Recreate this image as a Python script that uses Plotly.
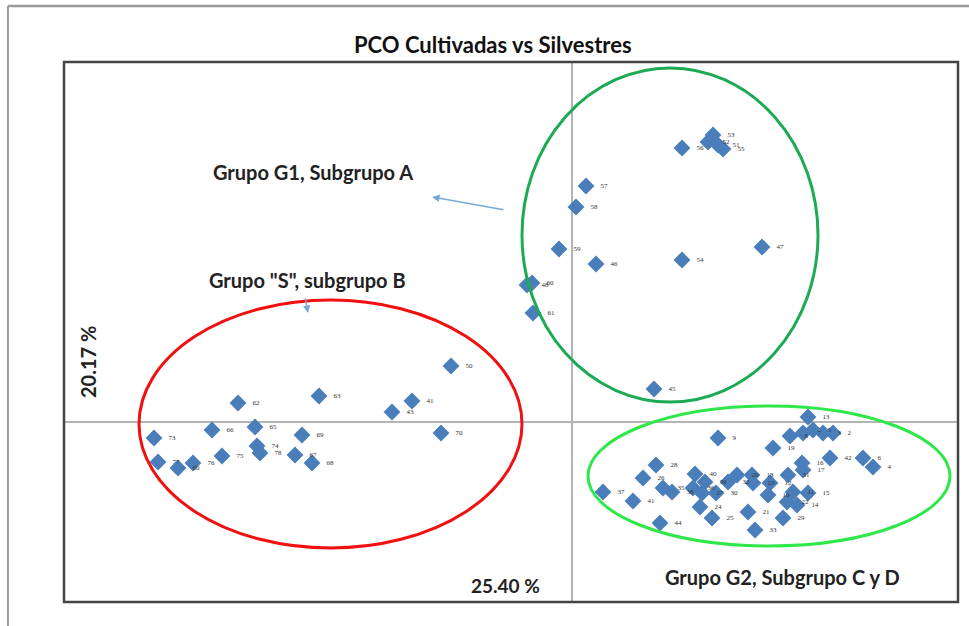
import plotly.graph_objects as go

# ---- data (PCO scores: PC1, PC2) ----
g1_x = [0.141, 0.136, 0.146, 0.151, 0.110, 0.014, 0.004, -0.013, 0.024, 0.110, 0.190, -0.045, -0.040, -0.039, 0.082]
g1_y = [0.287, 0.280, 0.277, 0.273, 0.274, 0.236, 0.215, 0.173, 0.158, 0.162, 0.175, 0.137, 0.139, 0.109, 0.033]
g1_lab = ["53", "52", "51", "55", "56", "57", "58", "59", "46", "54", "47", "48", "60", "61", "45"]

s_x = [-0.418, -0.414, -0.394, -0.379, -0.360, -0.350, -0.334, -0.317, -0.315, -0.312, -0.277, -0.270, -0.260, -0.253, -0.180, -0.160, -0.131, -0.121]
s_y = [-0.016, -0.040, -0.046, -0.041, -0.008, -0.034, 0.019, -0.005, -0.024, -0.031, -0.033, -0.013, -0.041, 0.026, 0.010, 0.021, -0.011, 0.056]
s_lab = ["73", "77", "80", "76", "66", "75", "62", "65", "74", "78", "67", "69", "68", "63", "43", "41", "70", "50"]

g2_x = [0.146, 0.084, 0.071, 0.031, 0.061, 0.091, 0.100, 0.088, 0.123, 0.133, 0.121, 0.130, 0.128, 0.144, 0.140,
        0.156, 0.165, 0.180, 0.181, 0.176, 0.183, 0.198, 0.196, 0.201, 0.216, 0.215, 0.225, 0.211, 0.221, 0.236,
        0.230, 0.231, 0.218, 0.231, 0.241, 0.251, 0.261, 0.236, 0.258, 0.291, 0.301]
g2_y = [-0.016, -0.043, -0.056, -0.070, -0.079, -0.066, -0.070, -0.101, -0.052, -0.060, -0.066, -0.071, -0.085, -0.071, -0.096,
        -0.060, -0.053, -0.053, -0.061, -0.090, -0.108, -0.061, -0.073, -0.026, -0.053, -0.080, -0.083, -0.096, -0.070, -0.071,
        -0.041, -0.048, -0.014, -0.011, -0.008, -0.011, -0.011, 0.005, -0.036, -0.036, -0.045]
g2_lab = ["9", "28", "26", "37", "41", "35", "38", "44", "40", "39", "36", "27", "24", "30", "25",
          "32", "20", "18", "23", "21", "33", "12", "10", "19", "31", "22", "14", "29", "11", "15",
          "16", "17", "8", "7", "5", "3", "2", "13", "42", "6", "4"]

x_pct = "25.40 %"
y_pct = "20.17 %"
title = "PCO Cultivadas vs Silvestres"

FONT = "Lato, Open Sans, sans-serif"
BLUE = "#4A7EBB"
TXT = "#222222"

fig = go.Figure()
for xs, ys, labs in [(g1_x, g1_y, g1_lab), (s_x, s_y, s_lab), (g2_x, g2_y, g2_lab)]:
    fig.add_trace(go.Scatter(
        x=xs, y=ys, text=labs, mode="markers+text",
        texttemplate="   %{text}", textposition="middle right",
        textfont=dict(size=7, color="#333333", family="Liberation Serif"),
        marker=dict(symbol="diamond", size=13, color=BLUE, line=dict(width=0)),
        showlegend=False, hoverinfo="skip"))

shapes = [
    # group ellipses
    dict(type="circle", xref="x", yref="y", x0=-0.050, x1=0.246, y0=0.020, y1=0.354,
         line=dict(color="#1DAA55", width=3)),
    dict(type="circle", xref="x", yref="y", x0=-0.433, x1=-0.050, y0=-0.126, y1=0.122,
         line=dict(color="#F01010", width=3)),
    dict(type="circle", xref="x", yref="y", x0=0.016, x1=0.378, y0=-0.124, y1=0.016,
         line=dict(color="#2EE84A", width=3)),
    # plot frame
    dict(type="rect", xref="paper", yref="paper", x0=0, x1=1, y0=0, y1=1,
         line=dict(color="#444444", width=2.5), layer="above"),
    # outer border (top and left)
    dict(type="line", xref="paper", yref="paper", x0=-0.0627, x1=1.02, y0=1.1037, y1=1.1037,
         line=dict(color="#9a9a9a", width=2.5)),
    dict(type="line", xref="paper", yref="paper", x0=-0.0627, x1=-0.0627, y0=1.1037, y1=-0.06,
         line=dict(color="#9a9a9a", width=2)),
]

ann = [
    dict(text="<b>" + title + "</b>", xref="paper", yref="paper", x=0.48, y=1.033, showarrow=False,
         font=dict(family=FONT, size=22, color="#111111"), xanchor="center", yanchor="middle"),
    dict(text="<b>Grupo G1, Subgrupo A</b>", x=-0.259, y=0.250, showarrow=False,
         font=dict(family=FONT, size=20, color=TXT)),
    dict(text='<b>Grupo "S", subgrupo B</b>', x=-0.265, y=0.142, showarrow=False,
         font=dict(family=FONT, size=20, color=TXT)),
    dict(text="<b>Grupo G2, Subgrupo C y D</b>", x=0.210, y=-0.155, showarrow=False,
         font=dict(family=FONT, size=20, color=TXT)),
    dict(text="<b>" + x_pct + "</b>", x=-0.067, y=-0.163, showarrow=False,
         font=dict(family=FONT, size=19, color=TXT)),
    dict(text="<b>" + y_pct + "</b>", x=-0.484, y=0.060, showarrow=False, textangle=-90,
         font=dict(family=FONT, size=20, color=TXT)),
    # arrows
    dict(text="", x=-0.140, y=0.225, ax=-0.067, ay=0.212, axref="x", ayref="y",
         showarrow=True, arrowhead=2, arrowsize=1, arrowwidth=1.5, arrowcolor="#7BA7D9"),
    dict(text="", x=-0.264, y=0.109, ax=-0.267, ay=0.125, axref="x", ayref="y",
         showarrow=True, arrowhead=2, arrowsize=1, arrowwidth=1.5, arrowcolor="#7BA7D9"),
]

fig.update_layout(
    width=969, height=626,
    margin=dict(l=64, r=11, t=62, b=24),
    paper_bgcolor="white", plot_bgcolor="white",
    shapes=shapes, annotations=ann,
    xaxis=dict(range=[-0.508, 0.386], showgrid=False, showticklabels=False, ticks="",
               zeroline=True, zerolinecolor="#b4b4b4", zerolinewidth=1.5),
    yaxis=dict(range=[-0.180, 0.360], showgrid=False, showticklabels=False, ticks="",
               zeroline=True, zerolinecolor="#b4b4b4", zerolinewidth=1.5),
)

fig.write_html("out.html", config={"displayModeBar": False},
               post_script="document.body.style.margin='0';")
